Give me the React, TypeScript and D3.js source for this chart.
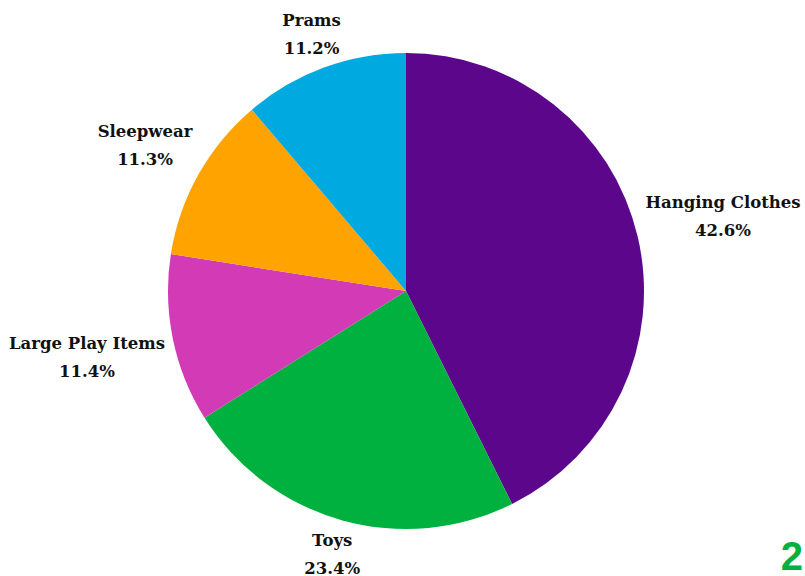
import React, { useEffect, useRef } from "react";
import * as d3 from "d3";

const categories = ["Hanging Clothes", "Toys", "Large Play Items", "Sleepwear", "Prams"];
const values = [42.6, 23.4, 11.4, 11.3, 11.2];
const colors = ["#5c068c", "#00b140", "#d33ab5", "#ffa300", "#00a9e0"];
const pageNumber = "2";

const W = 805;
const H = 576;
const CX = 406;
const CY = 291;
const R = 238;
const FONT = "'DejaVu Serif', serif";

export default function App() {
  const ref = useRef<SVGSVGElement>(null);

  useEffect(() => {
    const svg = d3.select(ref.current);
    svg.selectAll("*").remove();
    const data = categories.map((c, i) => ({ name: c, value: values[i], color: colors[i] }));
    const pie = d3.pie<any>().sort(null).value((d: any) => d.value);
    const arcs = pie(data);
    const arc = d3.arc<any>().innerRadius(0).outerRadius(R);
    const g = svg.append("g").attr("transform", `translate(${CX},${CY})`);
    g.selectAll("path")
      .data(arcs)
      .enter()
      .append("path")
      .attr("d", arc as any)
      .attr("fill", (d: any) => d.data.color);

    const lineH = 28;
    const pad = 8;
    const boxH = 52;
    arcs.forEach((a: any) => {
      const mid = (a.startAngle + a.endAngle) / 2;
      const dx = Math.sin(mid);
      const dy = -Math.cos(mid);
      const t = g.append("text")
        .attr("font-family", FONT)
        .attr("font-weight", "bold")
        .attr("font-size", 16.5)
        .attr("fill", "#111")
        .attr("text-anchor", "middle");
      const t1 = t.append("tspan").text(a.data.name);
      const t2 = t.append("tspan").text(a.data.value.toFixed(1) + "%");
      const w = Math.max(
        (t1.node() as any).getComputedTextLength(),
        (t2.node() as any).getComputedTextLength()
      );
      const ex = Math.abs(dx) > 1e-6 ? w / 2 / Math.abs(dx) : Infinity;
      const ey = Math.abs(dy) > 1e-6 ? boxH / 2 / Math.abs(dy) : Infinity;
      const dist = R + pad + Math.min(ex, ey);
      const cx = dx * dist;
      const cy = dy * dist;
      t.selectAll("tspan")
        .attr("x", cx)
        .attr("y", (_d: any, i: number) => cy - 8 + i * lineH);
    });

    svg.append("text")
      .attr("x", 803)
      .attr("y", 570)
      .attr("text-anchor", "end")
      .attr("font-family", "'Liberation Sans', Arial, sans-serif")
      .attr("font-weight", "bold")
      .attr("font-size", 40)
      .attr("fill", "#00b140")
      .text(pageNumber);
  }, []);

  return (
    <svg
      ref={ref}
      width={W}
      height={H}
      style={{ position: "absolute", left: 0, top: 0, background: "#fff" }}
    />
  );
}
